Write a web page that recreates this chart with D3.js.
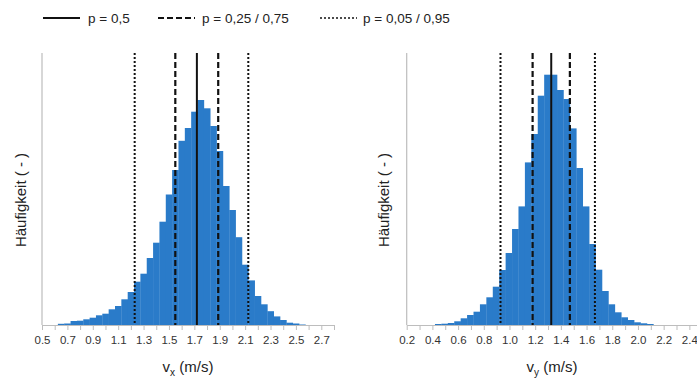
<!DOCTYPE html>
<html><head><meta charset="utf-8">
<script src="https://cdn.jsdelivr.net/npm/d3@7"></script>
<style>
html,body{margin:0;padding:0;background:#fff;}
svg{display:block;font-family:"Liberation Sans",Arial,sans-serif;}
</style></head>
<body><svg id="c" width="697" height="383"></svg>
<script>
// ---------- data ----------
const binWidth = 0.05;
// left panel: v_x histogram (bin lower edges, relative frequencies)
const vxBinStart = [0.625,0.675,0.725,0.775,0.825,0.875,0.925,0.975,1.025,1.075,1.125,1.175,1.225,1.275,1.325,1.375,1.425,1.475,1.525,1.575,1.625,1.675,1.725,1.775,1.825,1.875,1.925,1.975,2.025,2.075,2.125,2.175,2.225,2.275,2.325,2.375,2.425,2.475,2.525];
const vxFreq = [1.2,1.5,4.0,4.3,5.7,7.3,9.7,11.3,15.7,19.0,25.7,33.0,43.3,51.3,67.0,82.3,103.3,130.5,155.0,184.2,197.0,213.3,225.0,216.7,199.0,174.0,139.0,115.0,87.8,60.3,44.6,29.0,20.7,13.8,8.6,5.0,2.3,1.5,0.5];
// right panel: v_y histogram
const vyBinStart = [0.42,0.47,0.52,0.57,0.62,0.67,0.72,0.77,0.82,0.87,0.92,0.97,1.02,1.07,1.12,1.17,1.22,1.27,1.32,1.37,1.42,1.47,1.52,1.57,1.62,1.67,1.72,1.77,1.82,1.87,1.92,1.97,2.02,2.07];
const vyFreq = [1.0,1.3,2.0,3.7,6.7,10.0,13.3,20.7,27.7,38.3,55.0,72.0,96.0,118.6,162.6,191.0,229.3,250.3,250.3,235.0,226.0,196.6,157.0,118.6,81.0,55.3,34.0,20.7,12.7,7.7,5.0,2.7,1.7,1.0];
// quantiles p = 0.05, 0.25, 0.5, 0.75, 0.95
const quantileP = [0.05,0.25,0.5,0.75,0.95];
const vxQuantiles = [1.23,1.55,1.72,1.888,2.125];
const vyQuantiles = [0.93,1.18,1.325,1.47,1.665];
// axis ticks
const vxTicks = [0.5,0.6,0.7,0.8,0.9,1.0,1.1,1.2,1.3,1.4,1.5,1.6,1.7,1.8,1.9,2.0,2.1,2.2,2.3,2.4,2.5,2.6,2.7,2.8];
const vxTickLabels = ["0.5","","0.7","","0.9","","1.1","","1.3","","1.5","","1.7","","1.9","","2.1","","2.3","","2.5","","2.7",""];
const vyTicks = [0.2,0.3,0.4,0.5,0.6,0.7,0.8,0.9,1.0,1.1,1.2,1.3,1.4,1.5,1.6,1.7,1.8,1.9,2.0,2.1,2.2,2.3,2.4,2.5];
const vyTickLabels = ["0.2","","0.4","","0.6","","0.8","","1.0","","1.2","","1.4","","1.6","","1.8","","2.0","","2.2","","2.4",""];
const legendLabels = ["p = 0,5","p = 0,25 / 0,75","p = 0,05 / 0,95"];
const yLabel = "Häufigkeit ( - )";

// ---------- drawing ----------
const svg = d3.select("#c");
const barColor = "#2a7bc9";
const axisColor = "#bdbdbd";
const plotTop = 53, plotBase = 325;
const styleFor = p => p === 0.5 ? {w:2, dash:null} : (p === 0.25 || p === 0.75) ? {w:2.2, dash:"6,3"} : {w:2, dash:"2,2"};

function panel(cfg){
  const x = d3.scaleLinear().domain(cfg.domain).range(cfg.range);
  const y = d3.scaleLinear().domain([0, 272]).range([plotBase, plotTop]);
  const g = svg.append("g");
  g.selectAll("rect.bar").data(cfg.start.map((s,i)=>({s, f:cfg.freq[i]})))
    .join("rect").attr("class","bar")
    .attr("x", d => x(d.s)).attr("width", d => x(d.s+binWidth)-x(d.s)+0.3)
    .attr("y", d => y(d.f)).attr("height", d => y(0)-y(d.f))
    .attr("fill", barColor);
  // y axis line
  g.append("line").attr("x1", x(cfg.domain[0])).attr("x2", x(cfg.domain[0]))
    .attr("y1", plotTop).attr("y2", plotBase).attr("stroke", axisColor).attr("stroke-width",1.2);
  // x axis
  const ax = d3.axisBottom(x).tickValues(cfg.ticks).tickSize(5).tickSizeOuter(0)
    .tickFormat((d,i)=>cfg.labels[i]);
  const ag = g.append("g").attr("transform", `translate(0,${plotBase})`).call(ax);
  ag.select(".domain").attr("stroke", axisColor).attr("stroke-width",1.2);
  ag.selectAll(".tick line").attr("stroke", axisColor);
  ag.selectAll(".tick text").attr("fill","#333").attr("font-size","11.5px")
    .attr("font-family","Liberation Sans, Arial, sans-serif").attr("dy","0.95em");
  // quantile lines
  cfg.q.forEach((v,i)=>{
    const st = styleFor(quantileP[i]);
    g.append("line").attr("x1", x(v)).attr("x2", x(v)).attr("y1", plotTop).attr("y2", plotBase)
      .attr("stroke","#111").attr("stroke-width", st.w)
      .attr("stroke-dasharray", st.dash);
  });
  // y label
  g.append("text").attr("transform", `translate(${cfg.yLabelX},200) rotate(-90)`)
    .attr("text-anchor","middle").attr("font-size","15px").attr("fill","#222")
    .text(yLabel);
  // x title with subscript
  const t = g.append("text").attr("x", cfg.titleX).attr("y", 372)
    .attr("text-anchor","middle").attr("font-size","15px").attr("fill","#222");
  t.append("tspan").text("v");
  t.append("tspan").attr("font-size","10px").attr("dy", 4).text(cfg.sub);
  t.append("tspan").attr("dy", -4).text(" (m/s)");
}

panel({domain:[0.5,2.8], range:[42,334], start:vxBinStart, freq:vxFreq, q:vxQuantiles,
  ticks:vxTicks, labels:vxTickLabels, yLabelX:26, titleX:188, sub:"x"});
panel({domain:[0.2,2.5], range:[406.7,702.2], start:vyBinStart, freq:vyFreq, q:vyQuantiles,
  ticks:vyTicks, labels:vyTickLabels, yLabelX:389, titleX:552, sub:"y"});

// legend
const lg = svg.append("g");
const legX = [43, 158, 320], legTextX = [88, 202, 363];
legendLabels.forEach((lab,i)=>{
  const st = styleFor(quantileP[[2,1,0][i]]);
  lg.append("line").attr("x1", legX[i]).attr("x2", legX[i]+37).attr("y1",18).attr("y2",18)
    .attr("stroke","#111").attr("stroke-width", i===2?1.5:2).attr("stroke-dasharray", st.dash);
  lg.append("text").attr("x", legTextX[i]).attr("y", 22.5).attr("font-size","13.5px")
    .attr("fill","#222").text(lab);
});
</script></body></html>
